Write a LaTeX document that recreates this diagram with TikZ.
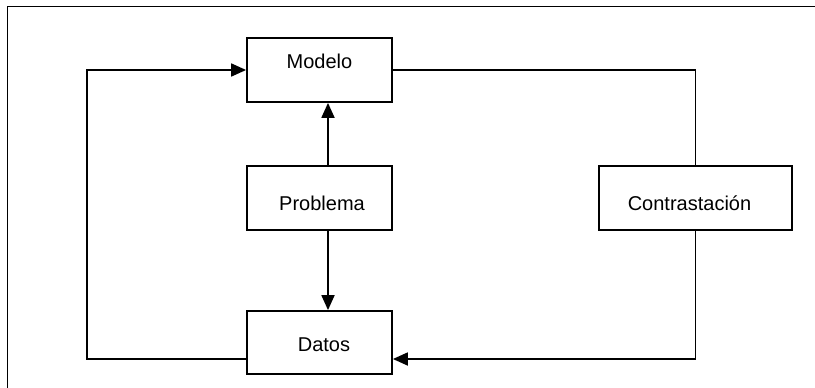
\documentclass[tikz,border=0pt]{standalone}
\usepackage{fontspec}
\setmainfont{Liberation Sans}
\usetikzlibrary{arrows.meta}
\begin{document}
\begin{tikzpicture}[x=1pt,y=-1pt,
  box/.style={draw,line width=1.8pt,rectangle,minimum height=64pt,inner sep=0pt},
  lbl/.style={anchor=base,inner sep=0pt,font=\fontsize{20}{24}\selectfont},
  link/.style={line width=1.8pt},
  arr/.style={link,-{Triangle[length=15pt,width=13pt]}}]
\useasboundingbox (0,0) rectangle (815,388);
% partial outer frame
\draw[line width=1.8pt] (7.5,388) -- (7.5,6.5) -- (815,6.5);
% boxes
\node[box,minimum width=145pt] (modelo) at (319.5,70) {};
\node[box,minimum width=145pt] (problema) at (319.5,198) {};
\node[box,minimum width=145pt,minimum height=63pt] (datos) at (319.5,342.5) {};
\node[box,minimum width=193pt] (contrast) at (695.5,198) {};
% labels
\node[lbl] at (319.5,68) {Modelo};
\node[lbl] at (322,210) {Problema};
\node[lbl] at (689.5,210.5) {Contrastación};
\node[lbl] at (324,351.5) {Datos};
% connectors
\draw[arr] ([xshift=8.5pt]problema.north) -- ([xshift=8.5pt]modelo.south);
\draw[arr] ([xshift=8.5pt]problema.south) -- ([xshift=8.5pt]datos.north);
\draw[arr] ([yshift=-16.5pt]datos.west) -- ++(-159,0) |- (modelo.west);
\draw[link] (modelo.east) -| (contrast.north);
\draw[arr] (contrast.south) |- ([yshift=-16.5pt]datos.east);
\end{tikzpicture}
\end{document}
